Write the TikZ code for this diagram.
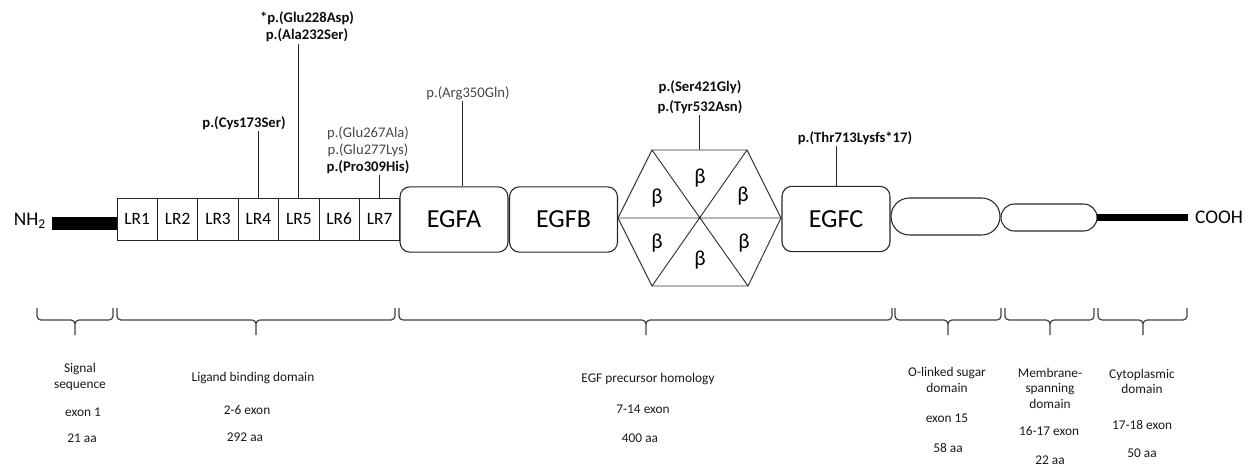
\documentclass[tikz,border=0pt]{standalone}
\usepackage{fontspec}
\setmainfont{Carlito}
\usetikzlibrary{positioning}

\begin{document}
\begin{tikzpicture}[x=0.75pt, y=-0.75pt,
  lrbox/.style={rectangle, draw=black!85, line width=0.7pt, minimum width=30.3pt,
    minimum height=31.5pt, inner sep=0pt, outer sep=0pt, font=\fontsize{13}{15}\selectfont},
  egfbox/.style={rectangle, draw=black!85, line width=0.8pt, rounded corners=7.5pt,
    minimum width=81pt, minimum height=49pt, inner sep=0pt, font=\fontsize{19.5}{22}\selectfont},
  ovalbox/.style={rectangle, draw=black!85, line width=0.8pt, inner sep=0pt},
  tailbar/.style={rectangle, fill=black, inner sep=0pt},
  endlbl/.style={font=\fontsize{14.5}{17}\selectfont, inner sep=0pt},
  mut/.style={align=center, inner sep=1pt, text=black!72, font=\fontsize{11}{12.75}\selectfont},
  mutb/.style={mut, text=black!95, font=\fontsize{11}{12.75}\selectfont\bfseries},
  mutline/.style={draw=black!85, line width=0.7pt},
  hexline/.style={draw=black!80, line width=0.7pt},
  beta/.style={font=\fontsize{16}{18}\selectfont},
  brc/.style={draw=black!75, line width=0.9pt, rounded corners=3pt},
  dom/.style={align=center, inner sep=0pt, text=black!90, font=\fontsize{10}{11.6}\selectfont}
]
  \useasboundingbox (0,0) rectangle (1252,467);

  % N-terminal tail and ligand binding repeats
  \node[endlbl] (nh)   at (30,221)  {NH\textsubscript{2}};
  \node[tailbar, minimum width=48.75pt, minimum height=9.75pt] (nbar) at (84.5,223.5) {};
  \node[lrbox] (lr1) at (137.2,219) {LR1};
  \node[lrbox, right=0pt of lr1] (lr2) {LR2};
  \node[lrbox, right=0pt of lr2] (lr3) {LR3};
  \node[lrbox, right=0pt of lr3] (lr4) {LR4};
  \node[lrbox, right=0pt of lr4] (lr5) {LR5};
  \node[lrbox, right=0pt of lr5] (lr6) {LR6};
  \node[lrbox, right=0pt of lr6] (lr7) {LR7};

  % EGF precursor homology
  \node[egfbox] (egfa) at (454,219.5)   {EGFA};
  \node[egfbox] (egfb) at (563.5,219.5) {EGFB};

  \coordinate (hl)  at (618,218);
  \coordinate (htl) at (652,150);
  \coordinate (htr) at (747,150);
  \coordinate (hr)  at (781,218);
  \coordinate (hbr) at (748,286);
  \coordinate (hbl) at (652,286);
  \coordinate (hextop) at (699.5,150);
  \draw[hexline] (hl) -- (htl) -- (htr) -- (hr) -- (hbr) -- (hbl) -- cycle;
  \draw[hexline] (htl) -- (hbr) (htr) -- (hbl) (hl) -- (hr);
  \node[beta] (b1) at (657,198) {β};
  \node[beta] (b2) at (700,178) {β};
  \node[beta] (b3) at (743,196) {β};
  \node[beta] (b4) at (657,243) {β};
  \node[beta] (b5) at (700,260) {β};
  \node[beta] (b6) at (744,243) {β};

  \node[egfbox] (egfc) at (836,219) {EGFC};

  % O-linked sugar, membrane, cytoplasmic tail
  \node[ovalbox, minimum width=81.75pt, minimum height=27.75pt, rounded corners=13.8pt] (olink) at (945.5,216.5) {};
  \node[ovalbox, minimum width=72pt, minimum height=20.25pt, rounded corners=10.1pt] (memb) at (1049,217.5) {};
  \node[tailbar, minimum width=68.25pt, minimum height=5.25pt] (cbar) at (1142.5,217.5) {};
  \node[endlbl] (cooh) at (1219,217) {COOH};

  % variants
  \node[mutb] (cys)    at (244,123) {p.(Cys173Ser)};
  \node[mutb] (glu228) at (307,27)  {*p.(Glu228Asp)\\p.(Ala232Ser)};
  \node[mut]  (pro309) at (368,150) {p.(Glu267Ala)\\p.(Glu277Lys)\\\textbf{\color{black!95}p.(Pro309His)}};
  \node[mut]  (arg)    at (468,93)  {p.(Arg350Gln)};
  \node[mutb] (ser)    at (700,97)  {p.(Ser421Gly)\\[2pt]p.(Tyr532Asn)};
  \node[mutb] (thr)    at (855,138) {p.(Thr713Lysfs*17)};

  \draw[mutline] (lr4.north) -- (lr4.north |- cys.south);
  \draw[mutline] (lr5.north) -- (lr5.north |- glu228.south);
  \draw[mutline] (lr7.north) -- (lr7.north |- pro309.south);
  \draw[mutline] ([xshift=6pt]egfa.north) -- ([xshift=6pt]egfa.north |- arg.south);
  \draw[mutline] (hextop) -- (hextop |- ser.south);
  \draw[mutline] (egfc.north) -- (egfc.north |- thr.south);

  % domain braces
  \draw[brc] (37,308) |- (75,320) -- (75,335)  (113,308) |- (75,320) -- (75,335);
  \draw[brc] (117,308) |- (256,320) -- (256,335)  (395,308) |- (256,320) -- (256,335);
  \draw[brc] (399,308) |- (646,320) -- (646,335)  (892,308) |- (646,320) -- (646,335);
  \draw[brc] (895,308) |- (948,320) -- (948,335)  (1001,308) |- (948,320) -- (948,335);
  \draw[brc] (1005,308) |- (1050,320) -- (1050,335)  (1094,308) |- (1050,320) -- (1050,335);
  \draw[brc] (1098,308) |- (1143,320) -- (1143,335)  (1187,308) |- (1143,320) -- (1143,335);

  % domain captions
  \node[dom] (sig)     at (80,377)    {Signal\\sequence};
  \node[dom] (sigex)   at (83,412)    {exon 1};
  \node[dom] (sigaa)   at (82,438)    {21 aa};
  \node[dom] (lig)     at (253,378)   {Ligand binding domain};
  \node[dom] (ligex)   at (247,410)   {2-6 exon};
  \node[dom] (ligaa)   at (245,437)   {292 aa};
  \node[dom] (egf)     at (648,379)   {EGF precursor homology};
  \node[dom] (egfex)   at (643,409)   {7-14 exon};
  \node[dom] (egfaa)   at (640,438)   {400 aa};
  \node[dom] (sug)     at (947,380)   {O-linked sugar\\domain};
  \node[dom] (sugex)   at (947,418)   {exon 15};
  \node[dom] (sugaa)   at (948,448)   {58 aa};
  \node[dom] (mem)     at (1050,388)  {Membrane-\\spanning\\domain};
  \node[dom] (memex)   at (1049,431)  {16-17 exon};
  \node[dom] (memaa)   at (1050,460)  {22 aa};
  \node[dom] (cyt)     at (1142,381.5) {Cytoplasmic\\domain};
  \node[dom] (cytex)   at (1142,425)  {17-18 exon};
  \node[dom] (cytaa)   at (1142,453)  {50 aa};
\end{tikzpicture}
\end{document}
